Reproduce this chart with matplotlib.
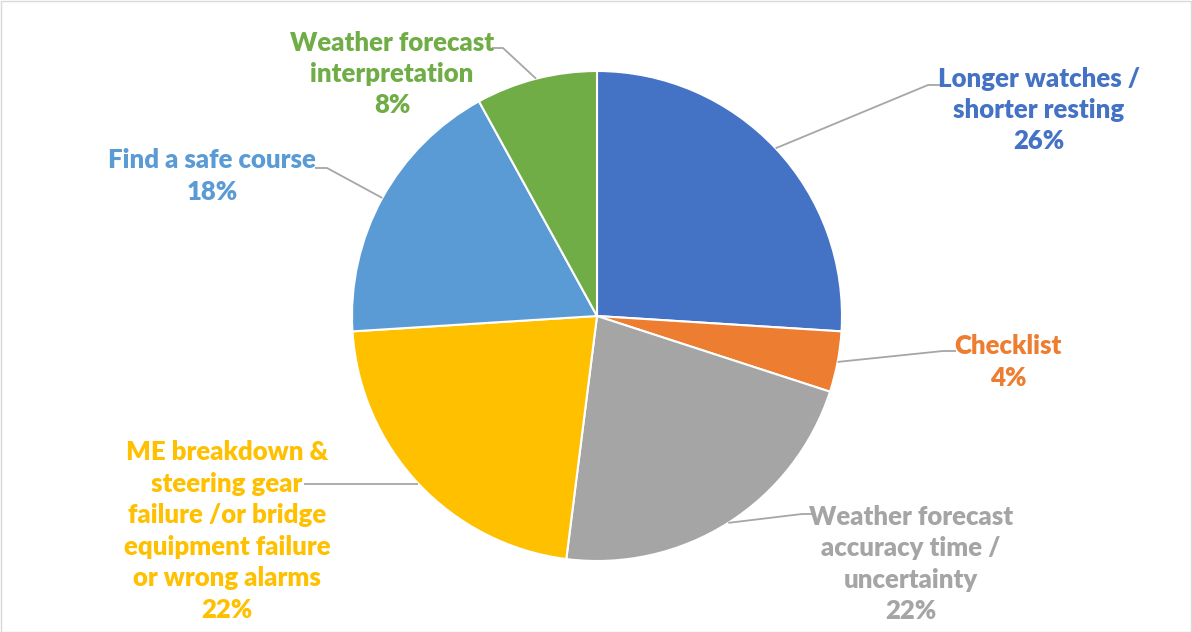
import numpy as np
import matplotlib
matplotlib.use("Agg")
import matplotlib.pyplot as plt
from matplotlib.patches import Rectangle

plt.rcParams['font.family'] = ['Lato', 'DejaVu Sans']

categories = [
    "Longer watches /\nshorter resting",
    "Checklist",
    "Weather forecast\naccuracy time /\nuncertainty",
    "ME breakdown &\nsteering gear\nfailure /or bridge\nequipment failure\nor wrong alarms",
    "Find a safe course",
    "Weather forecast\ninterpretation",
]
values = [26, 4, 22, 22, 18, 8]
colors = ["#4472C4", "#ED7D31", "#A5A5A5", "#FFC000", "#5B9BD5", "#70AD47"]

W, H = 1192, 632
fig = plt.figure(figsize=(W / 100, H / 100), dpi=100)
ax = fig.add_axes([0, 0, 1, 1])

cx, cy, R = 597, H - 316, 245
wedges, _ = ax.pie(values, colors=colors, startangle=90, counterclock=False,
                   center=(cx, cy), radius=R, frame=True,
                   wedgeprops=dict(edgecolor="white", linewidth=1.5))
ax.set_xlim(0, W)
ax.set_ylim(0, H)
ax.set_aspect('equal')
ax.axis('off')

# label layout: (text center x, text center y in px from top, elbow x, elbow y, end x)
layout = [
    (1039, 110, 928, 85, 941),
    (1008, 362, 943, 351, 956),
    (911, 564, 802, 514, 813),
    (227, 531, None, None, 304),
    (212, 176, 327, 168, 315),
    (392, 74, 503, 48, 492),
]

total = sum(values)
start = 90.0
for i, (lab, v, col) in enumerate(zip(categories, values, colors)):
    span = 360.0 * v / total
    mid = np.deg2rad(start - span / 2)
    start -= span
    px, py = cx + R * np.cos(mid), cy + R * np.sin(mid)
    tx, ty, ex, ey, endx = layout[i]
    pct = f"{round(100 * v / total)}%"
    ax.text(tx, H - ty, f"{lab}\n{pct}", ha="center", va="center",
            color=col, fontsize=18.5, fontweight="heavy", linespacing=1.37)
    if ex is None:
        xs, ys = [px, endx], [py, py]
    else:
        xs, ys = [px, ex, endx], [py, H - ey, H - ey]
    ax.plot(xs, ys, color="#A6A6A6", lw=1.3, solid_capstyle="butt")

fig.patches.append(Rectangle((0.5 / W, 0.5 / H), 1 - 1.5 / W, 1 - 1.5 / H,
                             transform=fig.transFigure, fill=False,
                             edgecolor="#D9D9D9", lw=1))
fig.savefig("out.png", dpi=100, facecolor="white")
